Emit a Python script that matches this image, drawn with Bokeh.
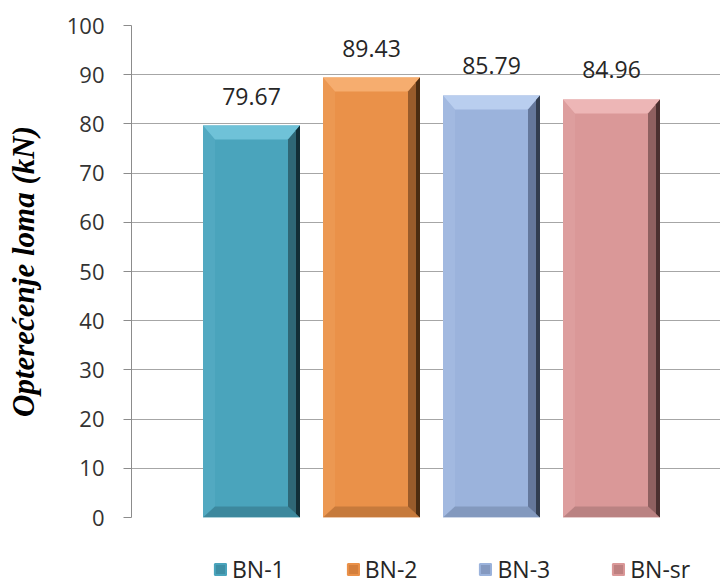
from bokeh.plotting import figure
from bokeh.layouts import column
from bokeh.models import ColumnDataSource, Legend, LegendItem, LabelSet, FixedTicker, Range1d
from bokeh.core.properties import value
from bokeh.embed import file_html
from bokeh.resources import INLINE

# ---- data ----
series = ["BN-1", "BN-2", "BN-3", "BN-sr"]
values = [79.67, 89.43, 85.79, 84.96]
positions = [1, 2, 3, 4]
y_ticks = [0, 10, 20, 30, 40, 50, 60, 70, 80, 90, 100]

# ---- style ----
base_colors = ["#4AA4BC", "#EA9149", "#9BB3DC", "#DA9898"]
top_colors = ["#6FC2D8", "#F6AD6F", "#B9CEEF", "#EDB6B6"]
left_colors = ["#52A9C1", "#EC9852", "#A2B9E0", "#DD9E9E"]
bottom_colors = ["#3D889D", "#C67A3C", "#8399BE", "#BA8282"]
right_colors = ["#2F6776", "#985B2B", "#65779A", "#8E6060"]
edge_colors = ["#132E36", "#4A2C12", "#333D4E", "#4A3030"]
legend_colors = ["#3E8FA5", "#D47F3C", "#8499C0", "#BE8080"]

W = 720
H_MAIN, H_LEG = 535, 50
FL, FR, FT, FB = 131, 0, 25, 18
frame_w = W - FL - FR
frame_h = H_MAIN - FT - FB
PX_PER_X = 120.0
x_max = frame_w / PX_PER_X
px_per_y = frame_h / 100.0

hw = 48.5 / PX_PER_X
bx = 12 / PX_PER_X
byt = 14 / px_per_y
byb = 11 / px_per_y
ex = 4 / PX_PER_X

p = figure(width=W, height=H_MAIN, output_backend="svg", toolbar_location=None,
           x_range=Range1d(0, x_max), y_range=Range1d(0, 100),
           x_axis_location=None,
           min_border_left=FL, min_border_right=FR, min_border_top=FT, min_border_bottom=FB)
p.outline_line_color = None
p.xgrid.grid_line_color = None
p.ygrid.grid_line_color = "#A6A6A6"
p.ygrid.grid_line_width = 1

p.yaxis.ticker = FixedTicker(ticks=y_ticks)
p.yaxis.axis_line_color = "#8C8C8C"
p.yaxis.major_tick_line_color = "#8C8C8C"
p.yaxis.major_tick_out = 8
p.yaxis.major_tick_in = 0
p.yaxis.minor_tick_line_color = None
p.yaxis.major_label_text_font = "Open Sans"
p.yaxis.major_label_text_font_size = "22px"
p.yaxis.major_label_text_color = "#333333"
p.yaxis.major_label_standoff = 19
p.yaxis.axis_label = "Opterećenje loma (kN)"
p.yaxis.axis_label_text_font = "Liberation Serif"
p.yaxis.axis_label_text_font_style = "bold italic"
p.yaxis.axis_label_text_font_size = "31px"
p.yaxis.axis_label_text_color = "#000000"
p.yaxis.axis_label_standoff = 23

for i, (c, v) in enumerate(zip(positions, values)):
    x0, x1 = c - hw, c + hw
    p.quad(left=[x0], right=[x1], bottom=[0], top=[v],
           fill_color=base_colors[i], line_color=None)
    p.patch([x0, x0 + bx, x0 + bx, x0], [v, v - byt, byb, 0],
            fill_color=left_colors[i], line_color=None)
    p.patch([x0, x1, x1 - bx, x0 + bx], [0, 0, byb, byb],
            fill_color=bottom_colors[i], line_color=None)
    p.patch([x0, x1, x1 - bx, x0 + bx], [v, v, v - byt, v - byt],
            fill_color=top_colors[i], line_color=None)
    p.patch([x1, x1, x1 - bx, x1 - bx], [v, 0, byb, v - byt],
            fill_color=right_colors[i], line_color=None)
    p.patch([x1, x1, x1 - ex, x1 - ex], [v, 0, byb * ex / bx, v - byt * ex / bx],
            fill_color=edge_colors[i], line_color=None)

src = ColumnDataSource(dict(x=positions, y=values, t=["%.2f" % v for v in values]))
labels = LabelSet(x="x", y="y", text="t", source=src, y_offset=21,
                  text_align="center", text_baseline="alphabetic",
                  text_font=value("Open Sans"), text_font_size=value("23px"),
                  text_color="#262626")
p.add_layout(labels)

# ---- legend strip below the chart (frame aligned with the chart's frame) ----
lp = figure(width=W, height=H_LEG, output_backend="svg", toolbar_location=None,
            x_range=Range1d(0, 1), y_range=Range1d(0, 1),
            x_axis_location=None, y_axis_location=None,
            min_border_left=FL, min_border_right=0, min_border_top=0, min_border_bottom=0)
lp.outline_line_color = None
lp.xgrid.grid_line_color = None
lp.ygrid.grid_line_color = None
leg_renderers = []
for i in range(len(series)):
    # swatch renderer kept outside the visible range; only its legend glyph shows
    r = lp.quad(left=[5], right=[6], bottom=[5], top=[6],
                fill_color=legend_colors[i], line_color=base_colors[i], line_width=2)
    leg_renderers.append(r)

legend = Legend(items=[LegendItem(label=s, renderers=[r]) for s, r in zip(series, leg_renderers)],
                orientation="horizontal", location=(82, 0),
                glyph_width=14, glyph_height=14, label_standoff=5, spacing=61,
                padding=0, margin=0, border_line_color=None, background_fill_alpha=0,
                label_text_font="Open Sans", label_text_font_size="23px",
                label_text_color="#262626", label_height=20)
lp.add_layout(legend)

open("out.html", "w").write(file_html(column(p, lp, spacing=0), INLINE))
